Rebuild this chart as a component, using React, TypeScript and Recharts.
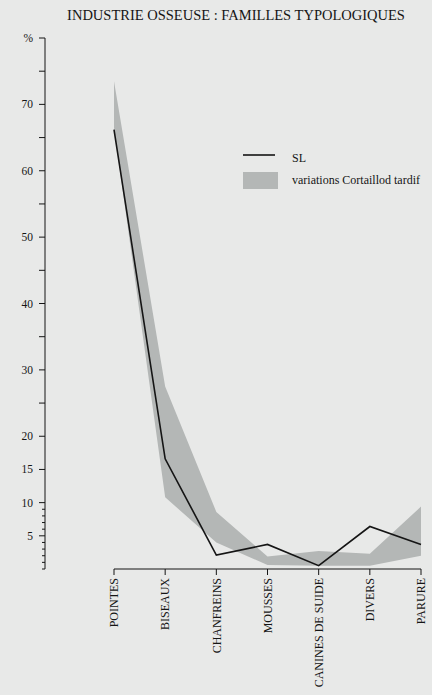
import { Area, ComposedChart, Line, ReferenceLine, XAxis, YAxis } from 'recharts';

// Bone industry: typological families (%)
const families = [
  'POINTES',
  'BISEAUX',
  'CHANFREINS',
  'MOUSSES',
  'CANINES DE SUIDE',
  'DIVERS',
  'PARURE',
];
const slValues = [66.2, 16.6, 2.1, 3.7, 0.5, 6.4, 3.7];
// late Cortaillod variation band (low / high)
const cortaillodLow = [66.5, 10.8, 4, 0.6, 0.5, 0.5, 2];
const cortaillodHigh = [73.5, 27.5, 8.6, 1.9, 2.7, 2.3, 9.4];

const yTicks = [0, 1, 2, 3, 4, 5, 6, 7, 8, 9, 10, 15, 20, 25, 30, 35, 40, 45, 50, 55, 60, 65, 70, 75, 80];
const yLabelTicks = [5, 10, 15, 20, 30, 40, 50, 60, 70, 80];

const data = families.map((name, i) => ({
  name,
  sl: slValues[i],
  band: [cortaillodLow[i], cortaillodHigh[i]],
}));

const INK = '#151515';
const BAND = '#b4b7b6';
const FONT = '"Liberation Serif", "Times New Roman", serif';

const YTick = ({ x, y, payload }: any) => {
  const v = payload.value;
  const minor = v < 10 && v !== 5;
  const len = minor ? 3 : 6;
  const label = yLabelTicks.includes(v) ? (v === 80 ? '%' : String(v)) : null;
  return (
    <g>
      <line x1={x - len} x2={x} y1={y} y2={y} stroke={INK} strokeWidth={1} />
      {label && (
        <text x={x - 12} y={y} dy="0.35em" textAnchor="end" fontSize={11.5} fontFamily={FONT} fill={INK}>
          {label}
        </text>
      )}
    </g>
  );
};

const XTick = ({ x, y, payload }: any) => (
  <g transform={`translate(${x},${y})`}>
    <line x1={0} x2={0} y1={0} y2={6} stroke={INK} strokeWidth={1} />
    <text transform="rotate(-90)" x={-9} y={0} dy="0.35em" textAnchor="end" fontSize={12} fontFamily={FONT} fill={INK}>
      {payload.value}
    </text>
  </g>
);

export default function App() {
  return (
    <div
      style={{
        position: 'absolute',
        left: 0,
        top: 0,
        width: 432,
        height: 695,
        background: '#e8e9e8',
        overflow: 'hidden',
      }}
    >
      <ComposedChart width={432} height={695} data={data} margin={{ top: 38, right: 11, left: 0, bottom: 0 }}>
        <XAxis
          dataKey="name"
          scale="point"
          padding={{ left: 69, right: 0 }}
          interval={0}
          tickSize={0}
          tickMargin={0}
          axisLine={false}
          tickLine={false}
          height={126}
          tick={(props: any) => <XTick {...props} />}
        />
        <YAxis
          type="number"
          domain={[0, 80]}
          ticks={yTicks}
          interval={0}
          tickSize={0}
          tickMargin={0}
          tickLine={false}
          axisLine={{ stroke: INK, strokeWidth: 1 }}
          width={45}
          tick={(props: any) => <YTick {...props} />}
        />
        <Area dataKey="band" type="linear" stroke="none" fill={BAND} fillOpacity={1} isAnimationActive={false} />
        <Line dataKey="sl" type="linear" stroke={INK} strokeWidth={1.6} dot={false} isAnimationActive={false} />
        <ReferenceLine
          segment={[
            { x: 'POINTES', y: 0 },
            { x: 'PARURE', y: 0 },
          ]}
          stroke={INK}
          strokeWidth={1}
        />
      </ComposedChart>
      <svg width={432} height={695} style={{ position: 'absolute', left: 0, top: 0, pointerEvents: 'none' }}>
        <text x={236} y={20} textAnchor="middle" fontSize={14.5} fontFamily={FONT} fill={INK}>
          INDUSTRIE OSSEUSE :  FAMILLES TYPOLOGIQUES
        </text>
        {/* legend */}
        <line x1={243} x2={275} y1={155} y2={155} stroke={INK} strokeWidth={1.6} />
        <text x={292} y={161.5} fontSize={12} fontFamily={FONT} fill={INK}>
          SL
        </text>
        <rect x={243} y={172} width={35} height={17} fill={BAND} />
        <text x={292} y={184} fontSize={12} fontFamily={FONT} fill={INK}>
          variations Cortaillod tardif
        </text>
      </svg>
    </div>
  );
}
